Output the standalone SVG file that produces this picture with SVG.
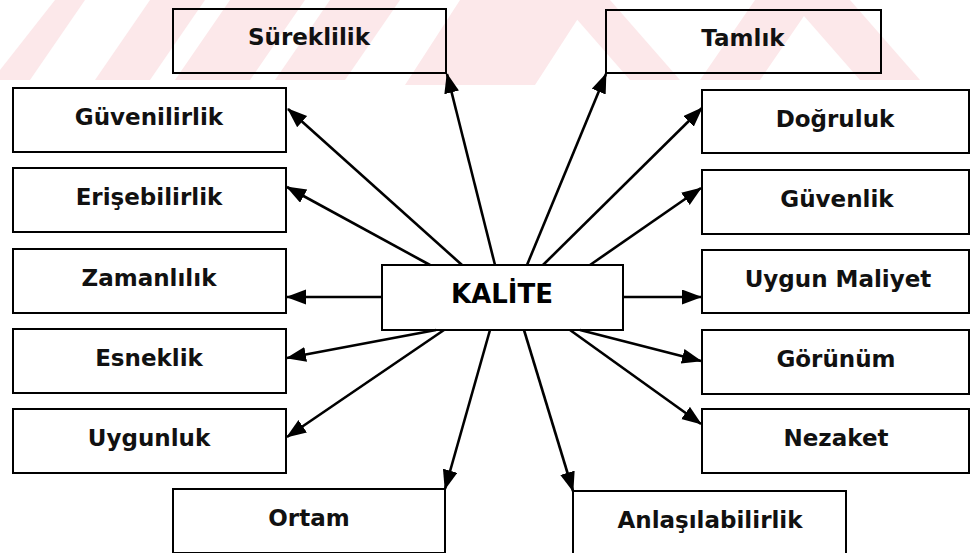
<svg xmlns="http://www.w3.org/2000/svg" width="971" height="553" viewBox="0 0 971 553">
<style>
.box{fill:none;stroke:#000;stroke-width:2}
.lbl{font-family:"DejaVu Sans",Verdana,sans-serif;font-weight:bold;font-size:23px;fill:#111;text-anchor:middle}
.ttl{font-size:26px;fill:#000}
.wm{fill:#fce8ea}
.con line{stroke:#000;stroke-width:2.6;marker-end:url(#ah)}
</style>
<defs>
<marker id="ah" markerUnits="userSpaceOnUse" markerWidth="22" markerHeight="16" refX="19" refY="7.5" orient="auto">
<path d="M0,0 L20,7.5 L0,15 z" fill="#000"/>
</marker>
</defs>
<rect width="971" height="553" fill="#fff"/>
<g id="watermark">
<polygon class="wm" points="0,80 30,80 85,0 55,0 0,70"/>
<polygon class="wm" points="95,80 150,80 205,0 150,0"/>
<polygon class="wm" points="175,80 250,80 305,0 230,0"/>
<polygon class="wm" points="275,80 345,80 400,0 330,0"/>
<polygon class="wm" points="405,85 535,85 590,0 460,0"/>
<polygon class="wm" points="560,0 610,0 680,80 630,80"/>
<polygon class="wm" points="700,80 760,80 815,0 755,0"/>
<polygon class="wm" points="790,0 850,0 920,80 860,80"/>
</g>
<g id="n-sureklilik"><rect class="box" x="173" y="9" width="273" height="64"/><text class="lbl" x="309" y="45">Süreklilik</text></g>
<g id="n-tamlik"><rect class="box" x="606" y="10" width="275" height="63"/><text class="lbl" x="743" y="46">Tamlık</text></g>
<g id="n-guvenilirlik"><rect class="box" x="13" y="88" width="273" height="64"/><text class="lbl" x="149" y="125">Güvenilirlik</text></g>
<g id="n-erisebilirlik"><rect class="box" x="13" y="168" width="273" height="64"/><text class="lbl" x="149" y="205">Erişebilirlik</text></g>
<g id="n-zamanlilik"><rect class="box" x="13" y="249" width="273" height="64"/><text class="lbl" x="149" y="286">Zamanlılık</text></g>
<g id="n-esneklik"><rect class="box" x="13" y="329" width="273" height="64"/><text class="lbl" x="149" y="366">Esneklik</text></g>
<g id="n-uygunluk"><rect class="box" x="13" y="409" width="273" height="64"/><text class="lbl" x="149" y="446">Uygunluk</text></g>
<g id="n-dogruluk"><rect class="box" x="702" y="90" width="267" height="63"/><text class="lbl" x="835" y="127">Doğruluk</text></g>
<g id="n-guvenlik"><rect class="box" x="702" y="170" width="267" height="64"/><text class="lbl" x="837" y="207">Güvenlik</text></g>
<g id="n-uygunmaliyet"><rect class="box" x="702" y="250" width="267" height="63"/><text class="lbl" x="838" y="287">Uygun Maliyet</text></g>
<g id="n-gorunum"><rect class="box" x="702" y="330" width="267" height="64"/><text class="lbl" x="836" y="367">Görünüm</text></g>
<g id="n-nezaket"><rect class="box" x="702" y="409" width="267" height="64"/><text class="lbl" x="836" y="446">Nezaket</text></g>
<g id="n-ortam"><rect class="box" x="173" y="489" width="272" height="64"/><text class="lbl" x="309" y="526">Ortam</text></g>
<g id="n-anlasilabilirlik"><rect class="box" x="573" y="491" width="273" height="64"/><text class="lbl" x="710" y="528">Anlaşılabilirlik</text></g>
<g id="n-kalite"><rect class="box" x="382" y="265" width="241" height="65"/><text class="lbl ttl" x="502" y="303">KALİTE</text></g>
<g id="connectors" class="con">
<line x1="430" y1="265" x2="287" y2="187"/>
<line x1="462" y1="265" x2="288" y2="109"/>
<line x1="495" y1="265" x2="447" y2="74"/>
<line x1="527" y1="265" x2="606" y2="74"/>
<line x1="543" y1="265" x2="702" y2="108"/>
<line x1="590" y1="265" x2="701" y2="188"/>
<line x1="623" y1="297" x2="701" y2="297"/>
<line x1="580" y1="330" x2="701" y2="361"/>
<line x1="570" y1="330" x2="701" y2="424"/>
<line x1="524" y1="330" x2="573" y2="491"/>
<line x1="490" y1="330" x2="445" y2="489"/>
<line x1="444" y1="330" x2="287" y2="437"/>
<line x1="436" y1="330" x2="287" y2="358"/>
<line x1="382" y1="297" x2="287" y2="297"/>
</g>
</svg>
